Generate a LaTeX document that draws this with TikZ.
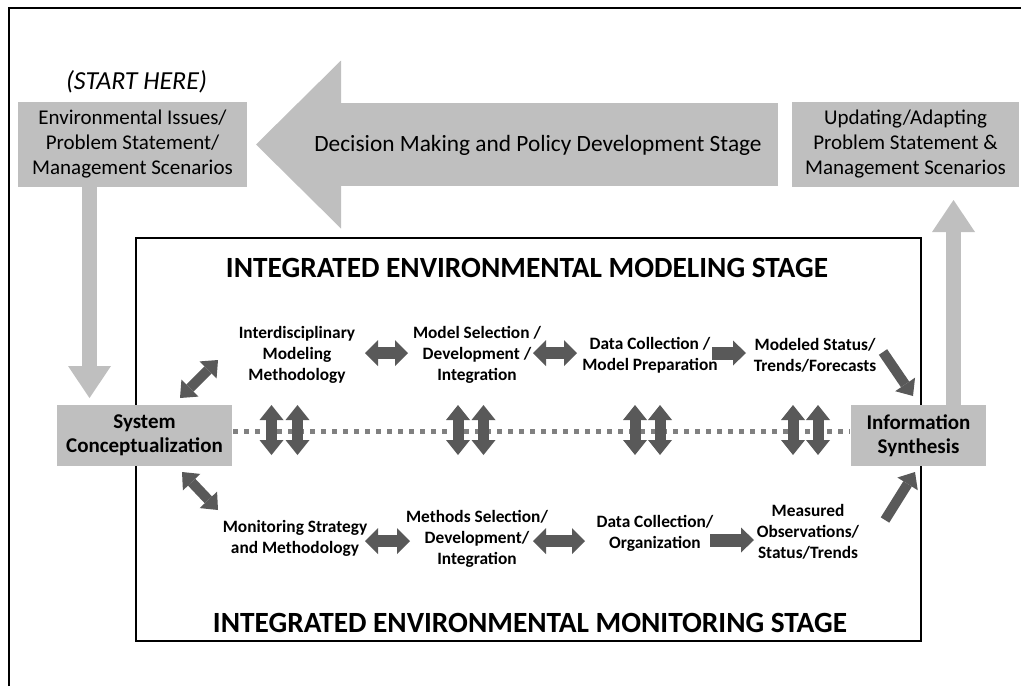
\documentclass[tikz,border=0pt]{standalone}
\usepackage{fontspec}
\setmainfont{Carlito}
\usetikzlibrary{arrows.meta}
\definecolor{boxgray}{HTML}{BFBFBF}
\definecolor{arrgray}{HTML}{595959}
\definecolor{dotgray}{HTML}{808080}
\begin{document}
\begin{tikzpicture}[x=0.75pt,y=-0.75pt,
  graybox/.style={fill=boxgray, draw=none, inner sep=0pt, align=center},
  bigbox/.style={graybox, minimum height=63.75pt, font=\fontsize{15.75}{18.75}\selectfont},
  smallbox/.style={graybox, minimum height=45.75pt, font=\bfseries\fontsize{15.75}{18}\selectfont},
  steptext/.style={inner sep=0pt, align=center, font=\bfseries\fontsize{13}{15.75}\selectfont},
  titletext/.style={inner sep=0pt, font=\bfseries\fontsize{22}{26}\selectfont},
  tV/.tip={Triangle[width=18pt,length=11.25pt,line width=0pt]},
  tH/.tip={Triangle[width=19.5pt,length=9.75pt,line width=0pt]},
  tS/.tip={Triangle[width=18.75pt,length=9.75pt,line width=0pt]},
  tD/.tip={Triangle[width=18pt,length=10.5pt,line width=0pt]},
  tL/.tip={Triangle[width=32.25pt,length=24pt,line width=0pt]},
  tB/.tip={Triangle[width=126pt,length=63.75pt,line width=0pt]},
  vdbl/.style={draw=arrgray, line width=8.25pt, tV-tV},
  hdbl/.style={draw=arrgray, line width=9pt, tH-tH},
  hsgl/.style={draw=arrgray, line width=9.75pt, -tS},
  ddbl/.style={draw=arrgray, line width=7.5pt, tD-tD},
  dsgl/.style={draw=arrgray, line width=7.5pt, -tD},
  lightarr/.style={draw=boxgray, line width=11.25pt, -tL},
  bigarr/.style={draw=boxgray, line width=62.25pt, -tB},
  dotline/.style={draw=dotgray, line width=3.75pt, dash pattern=on 3.75pt off 4.5pt},
  frameline/.style={draw=black, line width=1.8pt}
]
\useasboundingbox (0,0) rectangle (1021,686);

% outer frame (only left and top edges visible)
\draw[frameline] (9,686) -- (9,8) -- (1021,8);

% inner stage box
\draw[draw=black, line width=1.6pt] (136,238) rectangle (921,641);

% top-level boxes
\node[bigbox, minimum width=171.75pt] (env) at (132.5,144.5)
  {Environmental Issues/\\Problem Statement/\\Management Scenarios};
\node[inner sep=0pt, font=\itshape\fontsize{19.5}{22}\selectfont] (start) at (136.5,82) {(START HERE)};
\node[bigbox, minimum width=170.25pt] (upd) at (905.5,144.5)
  {Updating/Adapting\\Problem Statement \&\\Management Scenarios};

% big decision arrow
\coordinate (bigtail) at (778,144.5);
\coordinate (bighead) at (256,144.5);
\draw[bigarr] (bigtail) -- (bighead);
\node[inner sep=0pt, font=\fontsize{17.5}{20}\selectfont] (dec) at (538,145) {Decision Making and Policy Development Stage};

% system / information boxes
\node[smallbox, minimum width=131.25pt] (sys) at (144.5,435.5) {System\\Conceptualization};
\node[smallbox, minimum width=101.25pt] (info) at (918.5,435.5) {Information\\Synthesis};

% light gray arrows
\coordinate (downtop) at (89.5,187);
\coordinate (downbot) at (89.5,398);
\draw[lightarr] (downtop) -- (downbot);
\coordinate (upbot) at (953.5,405);
\coordinate (uptop) at (953.5,200);
\draw[lightarr] (upbot) -- (uptop);

% titles
\node[titletext] (t1) at (527,268) {INTEGRATED ENVIRONMENTAL MODELING STAGE};
\node[titletext] (t2) at (530,623) {INTEGRATED ENVIRONMENTAL MONITORING STAGE};

% modeling row
\node[steptext] (m1) at (297,355) {Interdisciplinary\\Modeling\\Methodology};
\node[steptext] (m2) at (477,355) {Model Selection /\\Development /\\Integration};
\node[steptext] (m3) at (650,355.5) {Data Collection /\\Model Preparation};
\node[steptext] (m4) at (815,355.5) {Modeled Status/\\Trends/Forecasts};

% monitoring row
\node[steptext] (n1) at (295,538.5) {Monitoring Strategy\\and Methodology};
\node[steptext] (n2) at (477,538.5) {Methods Selection/\\Development/\\Integration};
\node[steptext] (n3) at (655,533) {Data Collection/\\Organization};
\node[steptext] (n4) at (808,531.5) {Measured\\Observations/\\Status/Trends};

% horizontal arrows, modeling row
\coordinate (a12l) at (365,353); \coordinate (a12r) at (408,353);
\coordinate (a23l) at (533,353); \coordinate (a23r) at (577,353);
\coordinate (a34l) at (712,353); \coordinate (a34r) at (746,353);
\draw[hdbl] (a12l) -- (a12r);
\draw[hdbl] (a23l) -- (a23r);
\draw[hsgl] (a34l) -- (a34r);

% horizontal arrows, monitoring row
\coordinate (b12l) at (365,541); \coordinate (b12r) at (410,541);
\coordinate (b23l) at (533,541); \coordinate (b23r) at (585,541);
\coordinate (b34l) at (710,540); \coordinate (b34r) at (754,540);
\draw[hdbl] (b12l) -- (b12r);
\draw[hdbl] (b23l) -- (b23r);
\draw[hsgl] (b34l) -- (b34r);

% diagonal arrows
\coordinate (dul1) at (180,398); \coordinate (dul2) at (218,360);
\coordinate (dll1) at (182,472); \coordinate (dll2) at (218,510);
\coordinate (dur1) at (883,352); \coordinate (dur2) at (913,396);
\coordinate (dlr1) at (885,520); \coordinate (dlr2) at (915,472);
\draw[ddbl] (dul1) -- (dul2);
\draw[ddbl] (dll1) -- (dll2);
\draw[dsgl] (dur1) -- (dur2);
\draw[dsgl] (dlr1) -- (dlr2);

% dotted link between system and information
\coordinate (dotl) at (233,431);
\coordinate (dotr) at (850,431);
\draw[dotline] (dotl) -- (dotr);

% vertical double arrows
\foreach \xx [count=\i] in {271.5,297.5,458,483.5,635,660,793,818}{
  \coordinate (vt\i) at (\xx,405);
  \coordinate (vb\i) at (\xx,455);
  \draw[vdbl] (vt\i) -- (vb\i);
}
\end{tikzpicture}
\end{document}
